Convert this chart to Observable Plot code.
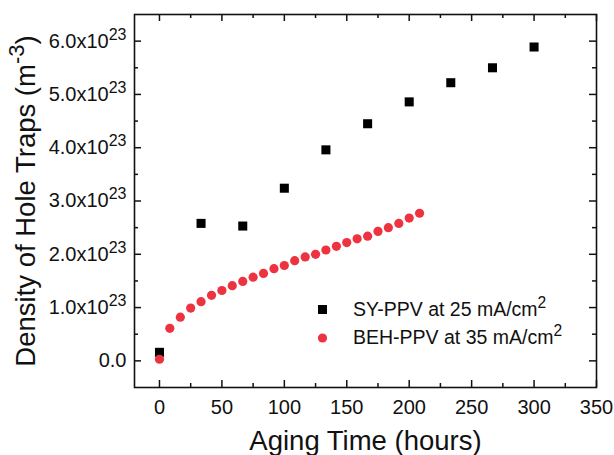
<!DOCTYPE html>
<html><head><meta charset="utf-8">
<script src="https://cdn.jsdelivr.net/npm/d3@7"></script>
<script src="https://cdn.jsdelivr.net/npm/@observablehq/plot@0.6"></script>
<style>
html,body{margin:0;padding:0;background:#fff;}
#chart{width:614px;height:455px;overflow:hidden;}
</style></head><body><div id="chart"></div>
<script>
// ---- data ----
const syHours  = [0, 33.3, 66.7, 100, 133.3, 166.7, 200, 233.3, 266.7, 300];
const syTraps  = [0.16e23, 2.58e23, 2.53e23, 3.24e23, 3.96e23, 4.45e23, 4.86e23, 5.22e23, 5.50e23, 5.89e23];
const behHours = [0, 8.3, 16.7, 25, 33.3, 41.7, 50, 58.3, 66.7, 75, 83.3, 91.7, 100, 108.3, 116.7, 125, 133.3, 141.7, 150, 158.3, 166.7, 175, 183.3, 191.7, 200, 208.3];
const behTraps = [0.03e23, 0.61e23, 0.82e23, 0.99e23, 1.11e23, 1.23e23, 1.32e23, 1.41e23, 1.49e23, 1.57e23, 1.64e23, 1.73e23, 1.79e23, 1.88e23, 1.95e23, 2.00e23, 2.08e23, 2.15e23, 2.22e23, 2.29e23, 2.34e23, 2.43e23, 2.50e23, 2.58e23, 2.68e23, 2.77e23];
const xTicks = [0, 50, 100, 150, 200, 250, 300, 350];
const xMinorTicks = [25, 75, 125, 175, 225, 275, 325];
const yTicks = [0, 1e23, 2e23, 3e23, 4e23, 5e23, 6e23];
const yMinorTicks = [0.5e23, 1.5e23, 2.5e23, 3.5e23, 4.5e23, 5.5e23];
const yTickLabels = ["0.0", "1.0x10^{23}", "2.0x10^{23}", "3.0x10^{23}", "4.0x10^{23}", "5.0x10^{23}", "6.0x10^{23}"];
const seriesNames = ["SY-PPV at 25 mA/cm^{2}", "BEH-PPV at 35 mA/cm^{2}"];
const xTitle = "Aging Time (hours)";
const yTitle = "Density of Hole Traps (m^{-3})";

// ---- layout ----
const W = 614, H = 455, mL = 134, mR = 18, mT = 14, mB = 68;
const iW = W - mL - mR, iH = H - mT - mB;
const MAJ = 7, MIN = 4;
const INK = "#111", RED = "#EE3340";
const FONT = "'Liberation Sans', Arial, Helvetica, sans-serif";

const syData = syHours.map((h, i) => ({h, v: syTraps[i]}));
const behData = behHours.map((h, i) => ({h, v: behTraps[i]}));
const tk = {stroke: INK, strokeWidth: 1.5};

const chart = Plot.plot({
  width: W, height: H,
  marginLeft: mL, marginRight: mR, marginTop: mT, marginBottom: mB,
  style: {fontFamily: FONT, fontSize: "20px", color: INK, background: "#fff", overflow: "visible"},
  x: {domain: [-20, 350]},
  y: {domain: [-0.5e23, 6.5e23]},
  marks: [
    Plot.axisX(xTicks, {tickSize: 0, tickPadding: 12, label: null, fontSize: 20, fill: INK}),
    Plot.axisY(yTicks, {tickSize: 0, tickPadding: 8, label: null, fontSize: 20, fill: INK,
      tickFormat: d => yTickLabels[yTicks.indexOf(d)]}),
    // inward ticks on all four sides
    Plot.tickX(xTicks, {x: d => d, insetTop: iH - MAJ, ...tk}),
    Plot.tickX(xTicks, {x: d => d, insetBottom: iH - MAJ, ...tk}),
    Plot.tickX(xMinorTicks, {x: d => d, insetTop: iH - MIN, ...tk}),
    Plot.tickX(xMinorTicks, {x: d => d, insetBottom: iH - MIN, ...tk}),
    Plot.tickY(yTicks, {y: d => d, insetRight: iW - MAJ, ...tk}),
    Plot.tickY(yTicks, {y: d => d, insetLeft: iW - MAJ, ...tk}),
    Plot.tickY(yMinorTicks, {y: d => d, insetRight: iW - MIN, ...tk}),
    Plot.tickY(yMinorTicks, {y: d => d, insetLeft: iW - MIN, ...tk}),
    Plot.frame({stroke: INK, strokeWidth: 1.6}),
    // data
    Plot.dot(syData, {x: "h", y: "v", symbol: "square", r: 5.1, fill: "#000", stroke: "none"}),
    Plot.dot(behData, {x: "h", y: "v", r: 4.6, fill: RED, stroke: "none"}),
    // legend
    Plot.dot([seriesNames[0]], {frameAnchor: "bottom-left", dx: 188, dy: -78, symbol: "square", r: 5.1, fill: "#000", stroke: "none"}),
    Plot.dot([seriesNames[1]], {frameAnchor: "bottom-left", dx: 188, dy: -49.5, r: 4.6, fill: RED, stroke: "none"}),
    Plot.text([seriesNames[0]], {frameAnchor: "bottom-left", dx: 218.5, dy: -78, text: d => d, textAnchor: "start", lineAnchor: "middle", fontSize: 19.5, fill: INK}),
    Plot.text([seriesNames[1]], {frameAnchor: "bottom-left", dx: 218.5, dy: -49.5, text: d => d, textAnchor: "start", lineAnchor: "middle", fontSize: 19.5, fill: INK}),
    // axis titles
    Plot.text([xTitle], {frameAnchor: "bottom", dy: 54, text: d => d, textAnchor: "middle", lineAnchor: "middle", fontSize: 27.5, fill: INK}),
    Plot.text([yTitle], {frameAnchor: "left", dx: -108, rotate: -90, text: d => d, textAnchor: "middle", lineAnchor: "middle", fontSize: 27.5, fill: INK})
  ]
});

// superscripts: "base^{sup}rest" -> tspans
const SUP = 0.8;
chart.querySelectorAll("text").forEach(t => {
  const s = t.textContent;
  const m = s.match(/^(.*)\^\{(.*?)\}(.*)$/);
  if (!m) return;
  while (t.firstChild) t.removeChild(t.firstChild);
  const ns = "http://www.w3.org/2000/svg";
  const a = document.createElementNS(ns, "tspan"); a.textContent = m[1]; t.appendChild(a);
  const b = document.createElementNS(ns, "tspan"); b.textContent = m[2];
  b.setAttribute("font-size", SUP + "em"); b.setAttribute("dy", "-0.5em"); t.appendChild(b);
  if (m[3]) {
    const c = document.createElementNS(ns, "tspan"); c.textContent = m[3];
    c.setAttribute("dy", (0.5 * SUP) + "em"); t.appendChild(c);
  }
});

document.getElementById("chart").appendChild(chart);
</script>
</body></html>
